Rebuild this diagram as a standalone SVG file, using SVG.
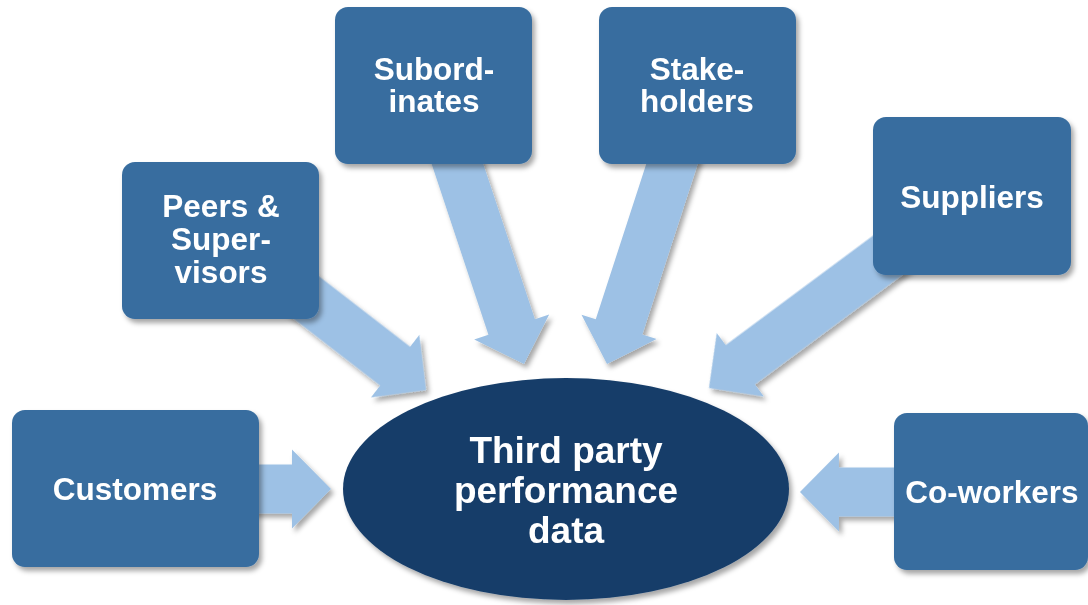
<svg xmlns="http://www.w3.org/2000/svg" xmlns:xlink="http://www.w3.org/1999/xlink" width="1088" height="605" viewBox="0 0 1088 605">
  <defs>
    <filter id="sh" x="-10%" y="-10%" width="125%" height="130%">
      <feDropShadow dx="3" dy="4" stdDeviation="2.5" flood-color="#000" flood-opacity="0.35"/>
    </filter>
    <path id="arr" d="M0,0 L-39,-39.5 L-39,-24.5 L-240,-24.5 L-240,24.5 L-39,24.5 L-39,39.5 Z"/>
  </defs>
  <style>
    .arrow { fill: #9DC1E5; }
    .box { fill: #386D9F; }
    .lbl { fill: #FFFFFF; font-family: "Liberation Sans", Arial, sans-serif; font-weight: bold; font-size: 31.5px; text-anchor: middle; }
    .core { fill: #163D69; }
    .clbl { fill: #FFFFFF; font-family: "Liberation Sans", Arial, sans-serif; font-weight: bold; font-size: 37px; text-anchor: middle; }
  </style>
  <rect width="1088" height="605" fill="#FFFFFF"/>
  <g id="connectors" filter="url(#sh)">
    <use xlink:href="#arr" class="arrow" transform="translate(331,489)"/>
    <use xlink:href="#arr" class="arrow" transform="translate(800,492) rotate(180)"/>
    <use xlink:href="#arr" class="arrow" transform="translate(426,390) rotate(37.7)"/>
    <use xlink:href="#arr" class="arrow" transform="translate(524,364) rotate(71.6)"/>
    <use xlink:href="#arr" class="arrow" transform="translate(607,364) rotate(108)"/>
    <use xlink:href="#arr" class="arrow" transform="translate(709,388) rotate(143.4)"/>
  </g>
  <g id="center" filter="url(#sh)">
    <ellipse class="core" cx="566" cy="489" rx="223" ry="111"/>
    <text class="clbl" x="566" y="463">Third party</text>
    <text class="clbl" x="566" y="503">performance</text>
    <text class="clbl" x="566" y="543">data</text>
  </g>
  <g id="customers" filter="url(#sh)">
    <rect class="box" x="12" y="410" width="247" height="157" rx="13"/>
    <text class="lbl" x="135" y="500">Customers</text>
  </g>
  <g id="peers" filter="url(#sh)">
    <rect class="box" x="122" y="162" width="197" height="157" rx="13"/>
    <text class="lbl" x="221" y="217">Peers &amp;</text>
    <text class="lbl" x="221" y="250">Super-</text>
    <text class="lbl" x="221" y="283">visors</text>
  </g>
  <g id="subordinates" filter="url(#sh)">
    <rect class="box" x="335" y="7" width="197" height="157" rx="13"/>
    <text class="lbl" x="434" y="80">Subord-</text>
    <text class="lbl" x="434" y="112">inates</text>
  </g>
  <g id="stakeholders" filter="url(#sh)">
    <rect class="box" x="599" y="7" width="197" height="157" rx="13"/>
    <text class="lbl" x="697" y="80">Stake-</text>
    <text class="lbl" x="697" y="112">holders</text>
  </g>
  <g id="suppliers" filter="url(#sh)">
    <rect class="box" x="873" y="117" width="198" height="158" rx="13"/>
    <text class="lbl" x="972" y="208">Suppliers</text>
  </g>
  <g id="coworkers" filter="url(#sh)">
    <rect class="box" x="894" y="413" width="194" height="157" rx="13"/>
    <text class="lbl" x="992" y="503">Co-workers</text>
  </g>
</svg>
